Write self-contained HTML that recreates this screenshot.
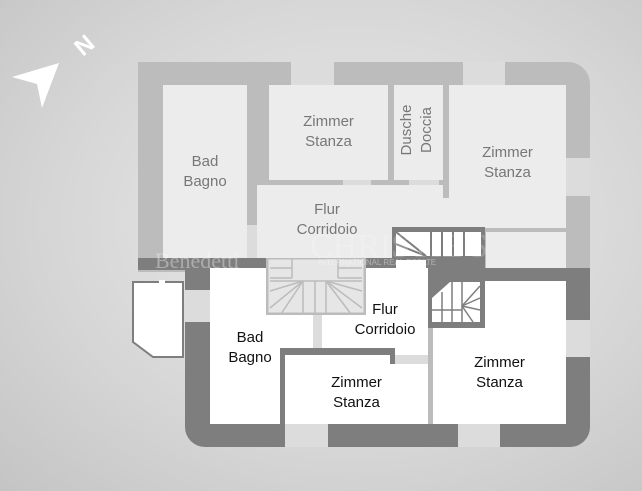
<!DOCTYPE html>
<html><head><style>
body{margin:0;width:642px;height:491px;overflow:hidden;background:radial-gradient(ellipse at 55% 45%,#ececec 0%,#d6d6d6 60%,#c4c4c4 100%);font-family:"Liberation Sans",sans-serif;position:relative}
div{position:absolute;box-sizing:border-box}
.u{background:#ececec}
.w{background:#fff}
.g{background:#bcbcbc}
.d{background:#7e7e7e}
.lw{background:#dcdcdc}
.t{text-align:center;font-size:15px;line-height:20px}
.tu{color:#777}
.tl{color:#111}
</style></head><body>
<svg style="position:absolute;left:0;top:20px" width="110" height="100">
<polygon points="12,57 59,43 42,88 37,64" fill="#fff"/>
<text x="76" y="38" font-size="24" font-weight="bold" fill="#fff" font-family="Liberation Sans" transform="rotate(-40 78 28)">N</text>
</svg>
<div class="g" style="left:138px;top:62px;width:452px;height:210px;border-top-right-radius:22px"></div>
<div class="lw" style="left:291px;top:62px;width:43px;height:23px"></div>
<div class="lw" style="left:463px;top:62px;width:42px;height:23px"></div>
<div class="lw" style="left:566px;top:158px;width:24px;height:38px"></div>
<div class="u" style="left:163px;top:85px;width:84px;height:175px"></div>
<div class="u" style="left:269px;top:85px;width:119px;height:95px"></div>
<div class="u" style="left:394px;top:85px;width:49px;height:95px"></div>
<div class="u" style="left:449px;top:85px;width:117px;height:143px"></div>
<div class="u" style="left:486px;top:232px;width:80px;height:40px"></div>
<div class="u" style="left:257px;top:185px;width:186px;height:80px"></div>
<div class="u" style="left:443px;top:198px;width:6px;height:30px"></div>
<div class="lw" style="left:343px;top:180px;width:28px;height:5px"></div>
<div class="lw" style="left:409px;top:180px;width:30px;height:5px"></div>
<div class="lw" style="left:247px;top:225px;width:10px;height:35px"></div>
<div class="t tu" style="left:163px;top:152px;width:84px">Bad<br>Bagno</div>
<div class="t tu" style="left:269px;top:112px;width:119px">Zimmer<br>Stanza</div>
<div class="t tu" style="left:449px;top:143px;width:117px">Zimmer<br>Stanza</div>
<div class="t tu" style="left:257px;top:200px;width:140px">Flur<br>Corridoio</div>
<div class="tu" style="left:397px;top:165px;font-size:15px;line-height:20px;transform:rotate(-90deg);transform-origin:0 0;width:70px;text-align:center">Dusche<br>Doccia</div>
<div class="d" style="left:392px;top:227px;width:93px;height:51px"></div>
<svg style="position:absolute;left:396px;top:232px" width="85" height="40">
<rect x="0" y="0" width="85" height="24" fill="#fff"/>
<rect x="0" y="28" width="30" height="10" fill="#fff"/>
<g stroke="#7e7e7e" stroke-width="2"><line x1="35" y1="0" x2="35" y2="24"/><line x1="46" y1="0" x2="46" y2="24"/><line x1="57" y1="0" x2="57" y2="24"/><line x1="68" y1="0" x2="68" y2="24"/><line x1="0" y1="0" x2="30" y2="24"/><line x1="0" y1="12" x2="30" y2="24"/></g>
</svg>
<div class="d" style="left:138px;top:258px;width:254px;height:12px"></div>
<div class="d" style="left:485px;top:272px;width:105px;height:10px"></div>
<div class="d" style="left:185px;top:268px;width:405px;height:179px;border-bottom-left-radius:20px;border-bottom-right-radius:20px"></div>
<div class="d" style="left:392px;top:270px;width:93px;height:12px"></div>
<div class="lw" style="left:185px;top:290px;width:25px;height:32px"></div>
<div class="lw" style="left:566px;top:320px;width:24px;height:37px"></div>
<div class="lw" style="left:285px;top:424px;width:43px;height:23px"></div>
<div class="lw" style="left:458px;top:424px;width:42px;height:23px"></div>
<div class="w" style="left:210px;top:268px;width:218px;height:156px"></div>
<div class="w" style="left:433px;top:281px;width:133px;height:143px"></div>
<div class="lw" style="left:313px;top:313px;width:9px;height:35px"></div>
<div class="d" style="left:280px;top:348px;width:115px;height:7px"></div>
<div class="d" style="left:280px;top:348px;width:5px;height:76px"></div>
<div class="d" style="left:390px;top:348px;width:5px;height:16px"></div>
<div class="lw" style="left:395px;top:355px;width:33px;height:9px"></div>
<div class="g" style="left:428px;top:327px;width:5px;height:97px"></div>
<div class="w" style="left:278px;top:355px;width:2px;height:69px"></div>
<svg style="position:absolute;left:131px;top:280px" width="56" height="80">
<polygon points="2,2 52,2 52,77 22,77 2,62" fill="#fff" stroke="#7e7e7e" stroke-width="2"/>
<rect x="28" y="-2" width="6" height="14" fill="#fff"/>
</svg>
<svg style="position:absolute;left:266px;top:258px" width="100" height="57">
<rect x="1" y="0" width="98" height="56" fill="#e6e6e6" stroke="#bcbcbc" stroke-width="3"/>
<g stroke="#bcbcbc" stroke-width="1.5" fill="none">
<line x1="4" y1="10" x2="26" y2="10"/><line x1="4" y1="20" x2="26" y2="20"/><line x1="72" y1="10" x2="96" y2="10"/><line x1="72" y1="20" x2="96" y2="20"/>
<line x1="26" y1="0" x2="26" y2="20"/><line x1="72" y1="0" x2="72" y2="20"/>
<line x1="37" y1="23" x2="37" y2="56"/><line x1="49" y1="23" x2="49" y2="56"/><line x1="60" y1="23" x2="60" y2="56"/>
<line x1="4" y1="23" x2="96" y2="23"/>
<line x1="37" y1="23" x2="4" y2="50"/><line x1="37" y1="23" x2="15" y2="56"/><line x1="37" y1="23" x2="4" y2="33"/>
<line x1="60" y1="23" x2="96" y2="50"/><line x1="60" y1="23" x2="85" y2="56"/><line x1="60" y1="23" x2="96" y2="33"/>
</g></svg>
<svg style="position:absolute;left:428px;top:278px" width="57" height="50">
<rect x="0" y="0" width="57" height="50" fill="#7e7e7e"/>
<polygon points="4,20 22,4 52,4 52,44 4,44" fill="#fff"/>
<g stroke="#7e7e7e" stroke-width="1.5"><line x1="14" y1="14" x2="14" y2="44"/><line x1="24" y1="4" x2="24" y2="44"/><line x1="34" y1="4" x2="34" y2="44"/><line x1="4" y1="32" x2="34" y2="32"/><line x1="34" y1="28" x2="52" y2="8"/><line x1="34" y1="28" x2="52" y2="20"/><line x1="34" y1="28" x2="52" y2="32"/><line x1="34" y1="28" x2="45" y2="44"/></g>
</svg>
<div class="t tl" style="left:210px;top:328px;width:80px">Bad<br>Bagno</div>
<div class="t tl" style="left:335px;top:300px;width:100px">Flur<br>Corridoio</div>
<div class="t tl" style="left:285px;top:373px;width:143px">Zimmer<br>Stanza</div>
<div class="t tl" style="left:433px;top:353px;width:133px">Zimmer<br>Stanza</div>
<div style="left:155px;top:248px;font-family:'Liberation Serif',serif;font-size:22px;color:rgba(255,255,255,.35)">Benedetti</div>
<div style="left:310px;top:228px;font-family:'Liberation Serif',serif;font-size:34px;color:rgba(255,255,255,.2)">CHRISTIE'S</div>
<div style="left:318px;top:258px;font-size:8px;color:rgba(255,255,255,.4)">INTERNATIONAL REAL ESTATE</div>
</body></html>
